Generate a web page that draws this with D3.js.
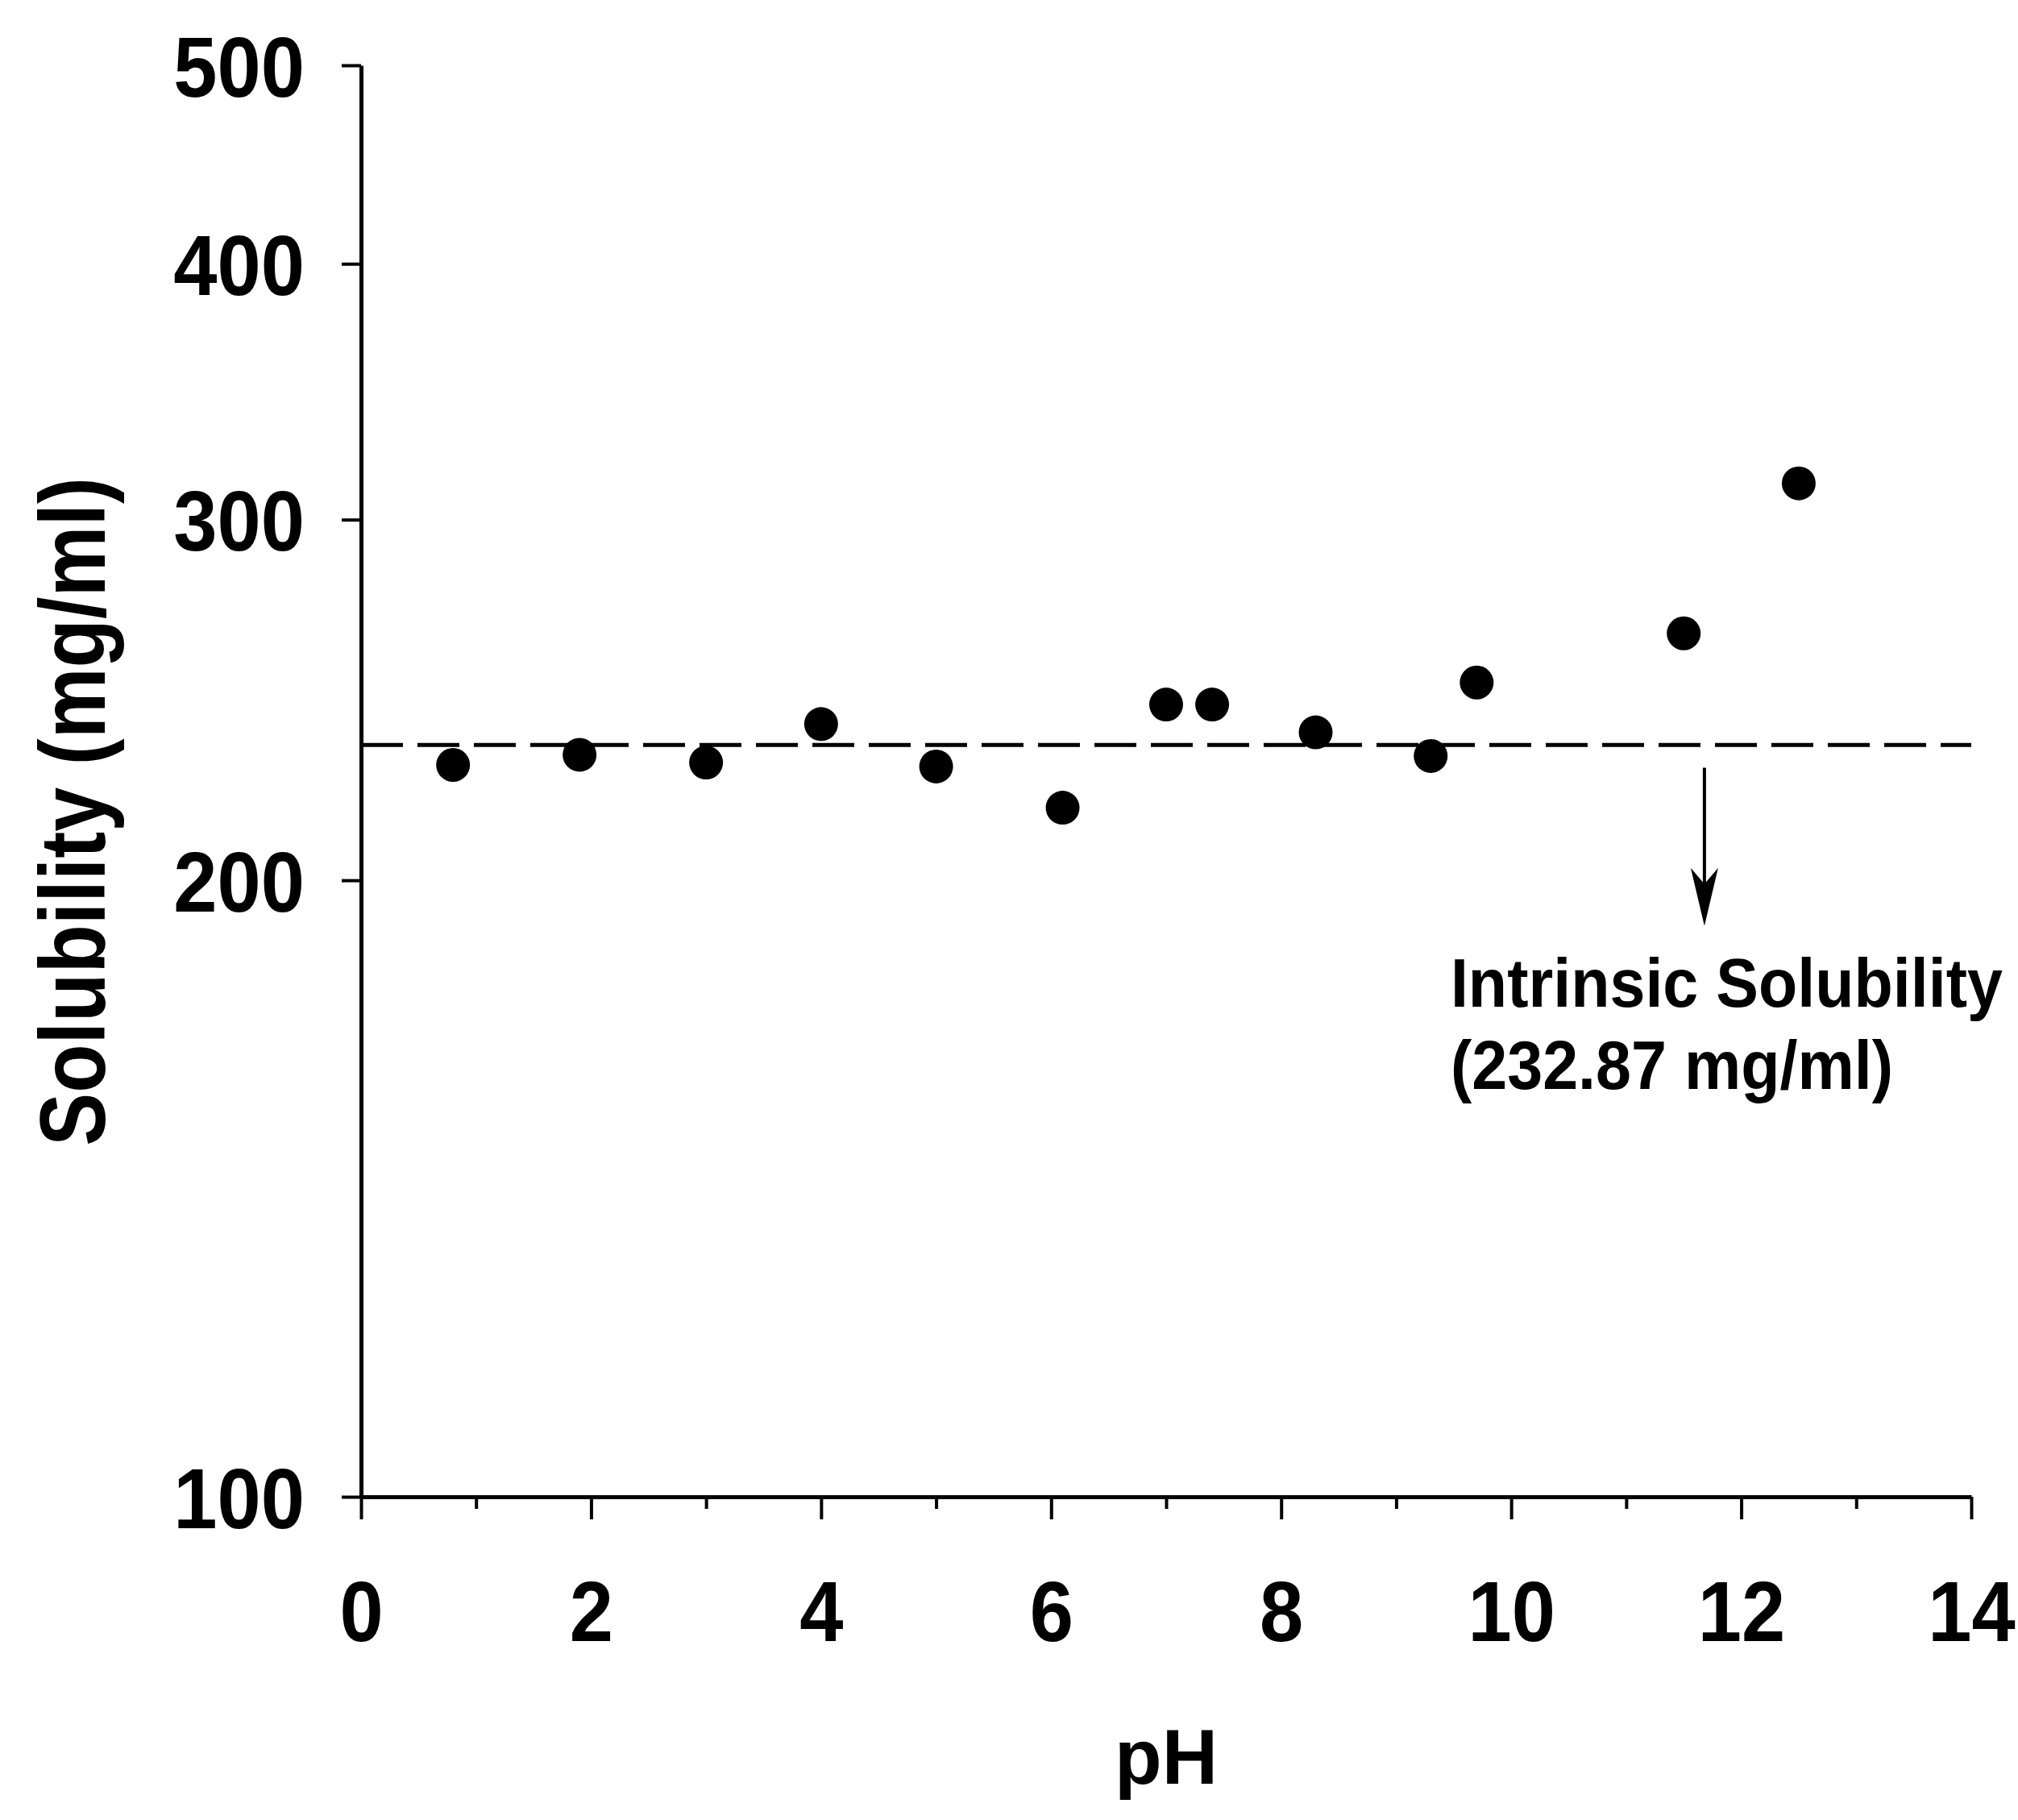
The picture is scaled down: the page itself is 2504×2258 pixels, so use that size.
<!DOCTYPE html>
<html>
<head>
<meta charset="utf-8">
<script src="https://cdn.jsdelivr.net/npm/d3@7"></script>
<style>
  html, body { margin: 0; padding: 0; background: #fff; }
  svg { display: block; }
  text { font-family: "Liberation Sans", Arial, Helvetica, sans-serif; font-weight: bold; fill: #000; }
</style>
</head>
<body>
<script>
// pH-solubility profile, measured points
const phValues   = [0.8, 1.9, 3.0, 4.0, 5.0, 6.1, 7.0, 7.4, 8.3, 9.3, 9.7, 11.5, 12.5];
const solubility = [227.7, 230.3, 228.3, 238.4, 227.3, 217.0, 243.7, 243.7, 236.2, 230.0, 249.8, 264.0, 312.5];

// Intrinsic solubility reference level (mg/ml)
const intrinsicSolubility = 232.87;

// Axis ticks
const xMajorTicks = [0, 2, 4, 6, 8, 10, 12, 14];
const xMinorTicks = [1, 3, 5, 7, 9, 11, 13];
const yTicks = [100, 200, 300, 400, 500];

// Annotation arrow (pH position, from / to solubility)
const arrowPH = 11.68;
const arrowFrom = 227;
const arrowTo = 190;

const W = 2504, H = 2258;
const svg = d3.select("body").append("svg")
  .attr("width", W).attr("height", H)
  .attr("viewBox", `0 0 ${W} ${H}`);

svg.append("rect").attr("width", W).attr("height", H).attr("fill", "#fff");

const x = d3.scaleLinear().domain([0, 14]).range([448, 2446]);
const y = d3.scaleLog().domain([100, 500]).range([1857, 81]);

const x0 = x.range()[0], y0 = y.range()[0];
const labelSqueeze = 0.92;

// X axis: minor ticks at odd values
const xMinorG = svg.append("g").attr("transform", `translate(0,${y0})`)
  .call(d3.axisBottom(x).tickValues(xMinorTicks).tickSize(15).tickFormat(""));
xMinorG.select(".domain").remove();
xMinorG.selectAll("line").attr("stroke", "#000").attr("stroke-width", 4);

// X axis: major ticks every 2 with labels
const xMajorG = svg.append("g").attr("transform", `translate(0,${y0})`)
  .call(d3.axisBottom(x).tickValues(xMajorTicks).tickSize(28).tickSizeOuter(0).tickFormat(d3.format("d")));
xMajorG.select(".domain").attr("stroke", "#000").attr("stroke-width", 5);
xMajorG.selectAll(".tick line").attr("stroke", "#000").attr("stroke-width", 4);
xMajorG.selectAll(".tick text")
  .attr("y", null).attr("dy", null)
  .attr("transform", `translate(0,179) scale(${labelSqueeze},1)`)
  .attr("font-size", 106)
  .style("font-family", "'Liberation Sans', Arial, sans-serif")
  .style("font-weight", "bold");

// Y axis (log scale)
const yAxisG = svg.append("g").attr("transform", `translate(${x0},0)`)
  .call(d3.axisLeft(y).tickValues(yTicks).tickSize(24).tickSizeOuter(0).tickFormat(d3.format("d")));
yAxisG.select(".domain").attr("stroke", "#000").attr("stroke-width", 5);
yAxisG.selectAll(".tick line").attr("stroke", "#000").attr("stroke-width", 4);
yAxisG.selectAll(".tick text")
  .attr("x", null).attr("dy", "0.36em")
  .attr("transform", `translate(-70,0) scale(${labelSqueeze},1)`)
  .attr("font-size", 106)
  .style("font-family", "'Liberation Sans', Arial, sans-serif")
  .style("font-weight", "bold");

// Intrinsic solubility dashed line
svg.append("line")
  .attr("x1", x(0)).attr("x2", x(14))
  .attr("y1", y(intrinsicSolubility)).attr("y2", y(intrinsicSolubility))
  .attr("stroke", "#000").attr("stroke-width", 5)
  .attr("stroke-dasharray", "52,18");

// Data points
const points = phValues.map((p, i) => ({ ph: p, s: solubility[i] }));
svg.append("g").selectAll("circle").data(points).join("circle")
  .attr("cx", d => x(d.ph))
  .attr("cy", d => y(d.s))
  .attr("r", 21)
  .attr("fill", "#000");

// Annotation arrow
const ax = x(arrowPH), ay1 = y(arrowFrom), ay2 = y(arrowTo);
svg.append("line")
  .attr("x1", ax).attr("x2", ax)
  .attr("y1", ay1).attr("y2", ay2 - 30)
  .attr("stroke", "#000").attr("stroke-width", 4);
svg.append("path")
  .attr("d", `M${ax - 17},${ay2 - 72} L${ax},${ay2 - 52} L${ax + 17},${ay2 - 72} L${ax},${ay2} Z`)
  .attr("fill", "#000");

// Annotation text
const note = svg.append("text")
  .attr("transform", `translate(${ax - 315},${ay2 + 100}) scale(0.93,1)`)
  .attr("font-size", 85);
note.append("tspan").attr("x", 0).attr("y", 0).text("Intrinsic Solubility");
note.append("tspan").attr("x", 0).attr("y", 102).text(`(${intrinsicSolubility} mg/ml)`);

// Axis titles
svg.append("text")
  .attr("transform", `translate(130,1007) rotate(-90) scale(0.86,1)`)
  .attr("text-anchor", "middle")
  .attr("font-size", 115)
  .text("Solubility (mg/ml)");

svg.append("text")
  .attr("x", (x(0) + x(14)) / 2)
  .attr("y", 2213)
  .attr("text-anchor", "middle")
  .attr("font-size", 96)
  .text("pH");
</script>
</body>
</html>
